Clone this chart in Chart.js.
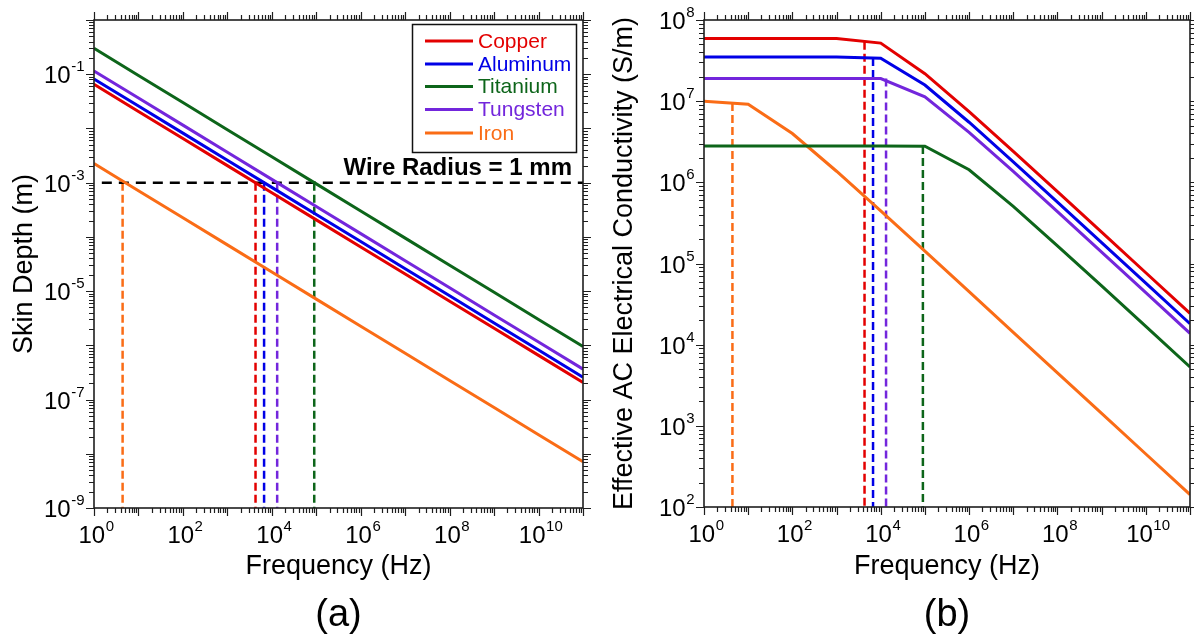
<!DOCTYPE html>
<html>
<head>
<meta charset="utf-8">
<script src="https://cdn.jsdelivr.net/npm/chart.js@4.4.1/dist/chart.umd.min.js"></script>
<style>
  html, body { margin: 0; padding: 0; background: #fff; }
  #wrap { position: relative; width: 1194px; height: 634px; }
  canvas { position: absolute; top: 0; }
</style>
</head>
<body>
<div id="wrap">
  <canvas id="depthChart" width="597" height="634" style="left:0"></canvas>
  <canvas id="sigmaChart" width="597" height="634" style="left:597px"></canvas>
</div>
<script>
// frequency grid shared by every curve (Hz)
const freqHz = [1, 1e1, 1e2, 1e3, 1e4, 1e5, 1e6, 1e7, 1e8, 1e9, 1e10, 1e11];

const materials = ['Copper', 'Aluminum', 'Titanium', 'Tungsten', 'Iron'];
const colors = ['#e30000', '#0000e6', '#0d651a', '#7326dc', '#fa6c16'];

// skin depth (m)
const depthCopper   = [6.52e-2, 2.06e-2, 6.52e-3, 2.06e-3, 6.52e-4, 2.06e-4, 6.52e-5, 2.06e-5, 6.52e-6, 2.06e-6, 6.52e-7, 2.06e-7];
const depthAluminum = [8.19e-2, 2.59e-2, 8.19e-3, 2.59e-3, 8.19e-4, 2.59e-4, 8.19e-5, 2.59e-5, 8.19e-6, 2.59e-6, 8.19e-7, 2.59e-7];
const depthTitanium = [3.0e-1, 9.49e-2, 3.0e-2, 9.49e-3, 3.0e-3, 9.49e-4, 3.0e-4, 9.49e-5, 3.0e-5, 9.49e-6, 3.0e-6, 9.49e-7];
const depthTungsten = [1.15e-1, 3.64e-2, 1.15e-2, 3.64e-3, 1.15e-3, 3.64e-4, 1.15e-4, 3.64e-5, 1.15e-5, 3.64e-6, 1.15e-6, 3.64e-7];
const depthIron     = [2.25e-3, 7.12e-4, 2.25e-4, 7.12e-5, 2.25e-5, 7.12e-6, 2.25e-6, 7.12e-7, 2.25e-7, 7.12e-8, 2.25e-8, 7.12e-9];

// effective AC conductivity of a 1 mm radius wire (S/m)
const sigmaCopper   = [5.9e7, 5.9e7, 5.9e7, 5.9e7, 5.19e7, 2.18e7, 7.43e6, 2.41e6, 7.67e5, 2.43e5, 7.69e4, 2.43e4];
const sigmaAluminum = [3.5e7, 3.5e7, 3.5e7, 3.5e7, 3.38e7, 1.58e7, 5.5e6, 1.79e6, 5.71e5, 1.81e5, 5.73e4, 1.81e4];
const sigmaTitanium = [2.8e6, 2.8e6, 2.8e6, 2.8e6, 2.8e6, 2.79e6, 1.43e6, 5.06e5, 1.65e5, 5.29e4, 1.68e4, 5.31e3];
const sigmaTungsten = [1.9e7, 1.9e7, 1.9e7, 1.9e7, 1.9e7, 1.13e7, 4.12e6, 1.36e6, 4.35e5, 1.38e5, 4.37e4, 1.38e4];
const sigmaIron     = [1e7, 9.17e6, 3.99e6, 1.37e6, 4.45e5, 1.42e5, 4.5e4, 1.42e4, 4.5e3, 1.42e3, 4.5e2, 1.42e2];

// frequency where skin depth equals the wire radius, and conductivity there
const wireRadius = 1e-3;
const crossFreq  = [4.3e3, 6.7e3, 9.0e4, 1.32e4, 4.4];
const crossSigma = [5.4e7, 3.4e7, 2.8e6, 1.9e7, 9.5e6];

const depthSeries = [depthCopper, depthAluminum, depthTitanium, depthTungsten, depthIron];
const sigmaSeries = [sigmaCopper, sigmaAluminum, sigmaTitanium, sigmaTungsten, sigmaIron];

const FONT = '"Liberation Sans", Arial, sans-serif';

function toPoints(ys) {
  return freqHz.map((f, i) => ({ x: f, y: ys[i] }));
}

function curveSets(series) {
  return series.map((ys, i) => ({
    label: materials[i],
    data: toPoints(ys),
    borderColor: colors[i],
    borderWidth: 3,
    pointRadius: 0,
    tension: 0,
    fill: false
  }));
}

function dashSet(points, color, dash, width) {
  return {
    label: '',
    data: points,
    borderColor: color,
    borderWidth: width,
    borderDash: dash,
    pointRadius: 0,
    fill: false
  };
}

// minor/major log ticks between 10^lo and 10^hi
function logTicks(lo, hi) {
  const out = [];
  for (let e = lo; e <= hi; e++) {
    for (let m = 1; m <= 9; m++) {
      if (e === hi && m > 1) break;
      out.push({ v: m * Math.pow(10, e), major: m === 1, e: e });
    }
  }
  return out;
}

function powLabel(ctx, exp, x, y, align) {
  ctx.font = '24px ' + FONT;
  const wb = ctx.measureText('10').width;
  ctx.font = '15px ' + FONT;
  const sup = String(exp);
  const ws = ctx.measureText(sup).width;
  const x0 = align === 'center' ? x - (wb + ws) / 2 : x - wb - ws;
  ctx.textAlign = 'left';
  ctx.textBaseline = 'alphabetic';
  ctx.font = '24px ' + FONT;
  ctx.fillText('10', x0, y);
  ctx.font = '15px ' + FONT;
  ctx.fillText(sup, x0 + wb + 0.5, y - 12);
}

function frameAxes(cfg) {
  return {
    id: 'frameAxes',
    afterDraw(chart) {
      const { ctx, chartArea: a, scales: { x, y } } = chart;
      ctx.save();
      ctx.strokeStyle = '#1e1e1e';
      ctx.fillStyle = '#000';
      ctx.lineWidth = 1.2;
      ctx.beginPath();
      for (const t of logTicks(cfg.xExp[0], cfg.xExp[1])) {
        const px = Math.round(x.getPixelForValue(t.v)) + 0.5;
        const len = t.major ? 8 : 5;
        ctx.moveTo(px, a.bottom); ctx.lineTo(px, a.bottom + len);
        ctx.moveTo(px, a.top); ctx.lineTo(px, a.top - len);
      }
      for (const t of logTicks(cfg.yExp[0], cfg.yExp[1])) {
        const py = Math.round(y.getPixelForValue(t.v)) + 0.5;
        const len = t.major ? 8 : 5;
        ctx.moveTo(a.left, py); ctx.lineTo(a.left - len, py);
        ctx.moveTo(a.right, py); ctx.lineTo(a.right + len, py);
      }
      ctx.stroke();
      ctx.lineWidth = 1.6;
      ctx.strokeRect(a.left, a.top, a.right - a.left, a.bottom - a.top);

      // tick labels
      for (let e = cfg.xExp[0]; e <= cfg.xExp[1]; e++) {
        if (!cfg.xShow(e)) continue;
        powLabel(ctx, e, x.getPixelForValue(Math.pow(10, e)) + 2, a.bottom + 35, 'center');
      }
      for (let e = cfg.yExp[0]; e <= cfg.yExp[1]; e++) {
        if (!cfg.yShow(e)) continue;
        powLabel(ctx, e, a.left - 10, y.getPixelForValue(Math.pow(10, e)) + 9, 'right');
      }

      // axis titles
      ctx.font = '27px ' + FONT;
      ctx.textAlign = 'center';
      ctx.textBaseline = 'alphabetic';
      ctx.fillText('Frequency (Hz)', (a.left + a.right) / 2, 574);
      ctx.save();
      ctx.translate(cfg.yTitleX, (a.top + a.bottom) / 2);
      ctx.rotate(-Math.PI / 2);
      ctx.fillText(cfg.yTitle, 0, 0);
      ctx.restore();

      ctx.font = '38px ' + FONT;
      ctx.fillText(cfg.panel, (a.left + a.right) / 2, 626);
      if (cfg.extra) cfg.extra(ctx, a);
      ctx.restore();
    }
  };
}

function drawLegend(ctx) {
  ctx.lineWidth = 1.5;
  ctx.strokeStyle = '#111';
  ctx.strokeRect(412.5, 24.5, 164, 128);
  const rows = [41, 64, 86.5, 109.5, 133];
  ctx.font = '21px ' + FONT;
  ctx.textAlign = 'left';
  ctx.textBaseline = 'middle';
  materials.forEach((m, i) => {
    ctx.strokeStyle = colors[i];
    ctx.lineWidth = 3;
    ctx.beginPath();
    ctx.moveTo(425, rows[i]);
    ctx.lineTo(473, rows[i]);
    ctx.stroke();
    ctx.fillStyle = colors[i];
    ctx.fillText(m, 478, rows[i] + 1);
  });
  ctx.fillStyle = '#000';
  ctx.font = 'bold 24px ' + FONT;
  ctx.textAlign = 'right';
  ctx.textBaseline = 'alphabetic';
  ctx.fillText('Wire Radius = 1 mm', 572, 175);
}

const baseOptions = (padding, yMin, yMax) => ({
  responsive: false,
  animation: false,
  devicePixelRatio: 1,
  layout: { padding: padding },
  plugins: { legend: { display: false }, tooltip: { enabled: false } },
  scales: {
    x: { type: 'logarithmic', min: 1, max: 1e11, display: false },
    y: { type: 'logarithmic', min: yMin, max: yMax, display: false }
  }
});

// (a) skin depth
const depthSets = curveSets(depthSeries);
depthSets.push(dashSet([{ x: 1.5, y: wireRadius }, { x: 1e11, y: wireRadius }], '#000', [10, 7], 2.5));
crossFreq.forEach((f, i) => {
  depthSets.push(dashSet([{ x: f, y: wireRadius }, { x: f, y: 1e-9 }], colors[i], [8, 4], 2.5));
});

new Chart(document.getElementById('depthChart'), {
  type: 'line',
  data: { datasets: depthSets },
  options: baseOptions({ left: 94, right: 14, top: 20, bottom: 126 }, 1e-9, 1),
  plugins: [frameAxes({
    xExp: [0, 11], yExp: [-9, 0],
    xShow: e => e % 2 === 0 && e <= 10,
    yShow: e => e % 2 !== 0,
    yTitle: 'Skin Depth (m)', yTitleX: 32, panel: '(a)',
    extra: drawLegend
  })]
});

// (b) effective conductivity
const sigmaSets = curveSets(sigmaSeries);
crossFreq.forEach((f, i) => {
  sigmaSets.push(dashSet([{ x: f, y: crossSigma[i] }, { x: f, y: 1e2 }], colors[i], [8, 4], 2.5));
});

new Chart(document.getElementById('sigmaChart'), {
  type: 'line',
  data: { datasets: sigmaSets },
  options: baseOptions({ left: 107, right: 4, top: 20, bottom: 127 }, 1e2, 1e8),
  plugins: [frameAxes({
    xExp: [0, 11], yExp: [2, 8],
    xShow: e => e % 2 === 0 && e <= 10,
    yShow: () => true,
    yTitle: 'Effective AC Electrical Conductivity (S/m)', yTitleX: 35, panel: '(b)'
  })]
});
</script>
</body>
</html>
